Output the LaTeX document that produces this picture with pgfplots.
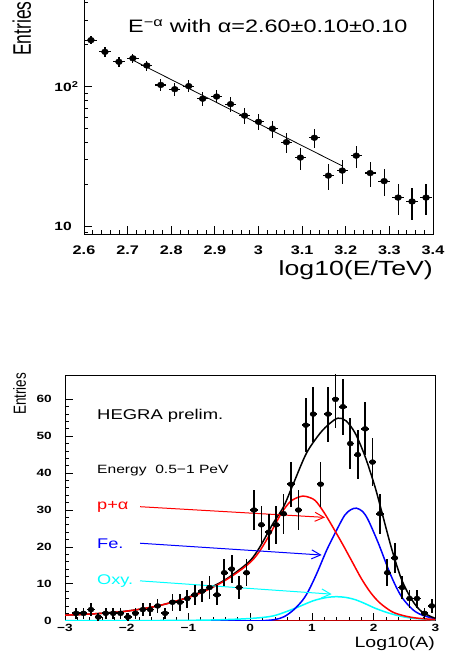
\documentclass[border=0pt]{standalone}
\usepackage{fontspec}
\setmainfont{Liberation Sans}[FakeStretch=1.3]
\newfontfamily\plainfont{Liberation Sans}
\usepackage{graphicx}
\usepackage{pgfplots}
\usepackage{pgfplotstable}
\pgfplotsset{compat=1.18}
\usetikzlibrary{arrows.meta}
\definecolor{rootcyan}{RGB}{0,255,255}
\definecolor{rootblue}{RGB}{0,0,255}
\definecolor{rootred}{RGB}{255,0,0}

\pgfplotstableread{
x y ex ey
2.616 216 0.013 14.7
2.648 178 0.013 13.3
2.680 151 0.013 12.3
2.712 160 0.013 12.6
2.744 142 0.013 11.9
2.776 103 0.013 10.1
2.808 96 0.013 9.8
2.840 101 0.013 10.0
2.872 82 0.013 9.1
2.904 85 0.013 9.2
2.936 75 0.013 8.7
2.968 62 0.013 7.9
3.000 56 0.013 7.5
3.032 50 0.013 7.1
3.064 40 0.013 6.3
3.096 31 0.013 5.6
3.128 43 0.013 6.6
3.160 23 0.013 4.8
3.192 25 0.013 5.0
3.224 32 0.013 5.7
3.256 24 0.013 4.9
3.288 21 0.013 4.6
3.320 16 0.013 4.0
3.352 15 0.013 3.9
3.384 16 0.013 4.0
}\spectrum

\pgfplotstableread{
x y ex ey
-2.82 2 0.06 1.41
-2.70 2 0.06 1.41
-2.58 3 0.06 1.73
-2.46 1 0.06 1.00
-2.34 2 0.06 1.41
-2.22 2 0.06 1.41
-2.10 2 0.06 1.41
-1.98 1 0.06 1.00
-1.86 2 0.06 1.41
-1.74 3 0.06 1.73
-1.62 3 0.06 1.73
-1.50 4 0.06 2.00
-1.38 2 0.06 1.41
-1.26 5 0.06 2.24
-1.14 5 0.06 2.24
-1.02 6 0.06 2.45
-0.90 7 0.06 2.65
-0.78 8 0.06 2.83
-0.66 9 0.06 3.00
-0.54 7 0.06 2.65
-0.42 13 0.06 3.61
-0.30 14 0.06 3.74
-0.18 9 0.06 3.00
-0.06 13 0.06 3.61
0.06 30 0.06 5.48
0.18 26 0.06 5.10
0.30 24 0.06 4.90
0.42 26 0.06 5.10
0.54 29 0.06 5.39
0.66 37 0.06 6.08
0.78 30 0.06 5.48
0.90 53 0.06 7.28
1.02 56 0.06 7.48
1.14 37 0.06 6.08
1.26 56 0.06 7.48
1.38 60 0.06 7.75
1.50 58 0.06 7.62
1.62 48 0.06 6.93
1.74 45 0.06 6.71
1.86 52 0.06 7.21
1.98 43 0.06 6.56
2.10 29 0.06 5.39
2.22 13 0.06 3.61
2.34 17 0.06 4.12
2.46 9 0.06 3.00
2.58 6 0.06 2.45
2.70 6 0.06 2.45
2.82 2 0.06 1.41
2.94 4 0.06 2.00
}\composition

\pgfplotsset{
  rootaxis/.style={
    scale only axis, anchor=south west,
    tick align=inside, tick pos=left,
    major tick length=8pt, minor tick length=4pt,
    tick style={black, line width=0.8pt},
    axis line style={black, line width=0.8pt},
    /pgf/number format/assume math mode=true,
  },
}

\begin{document}
\begin{tikzpicture}
\path[use as bounding box] (0pt,0pt) rectangle (450pt,657pt);
\clip (0pt,0pt) rectangle (450pt,657pt);

% ---------------- top panel ----------------
\begin{axis}[rootaxis,
  at={(84pt,422.7pt)}, width=349pt, height=241.2pt,
  xmin=2.6, xmax=3.4, ymode=log, ymin=8.72, ymax=470,
  xtick={2.6,2.7,2.8,2.9,3.0,3.1,3.2,3.3,3.4},
  xticklabels={2.6,2.7,2.8,2.9,3,3.1,3.2,3.3,3.4},
  minor x tick num=4,
  ytick={10,100},
  yticklabels={10,10\rlap{\raisebox{3.6pt}{\fontsize{8.5}{8.5}\selectfont\bfseries 2}}},
  minor ytick={9,20,30,40,50,60,70,80,90,200,300,400},
  xticklabel style={font=\fontsize{12.5}{12.5}\selectfont\bfseries, anchor=north, inner sep=0pt, yshift=-11pt},
  yticklabel style={font=\fontsize{12}{12}\selectfont\bfseries, anchor=east, inner sep=0pt, xshift=-12pt},
]
\addplot[only marks, mark=*, mark size=2.9pt, mark options={xscale=1.2, fill=black},
  error bars/.cd, x dir=both, x explicit, y dir=both, y explicit, error mark=none,
  error bar style={line width=1.2pt, black}]
  table[x=x, y=y, x error=ex, y error=ey] {\spectrum};
\addplot[black, line width=0.8pt] coordinates {(2.712,155) (3.192,27)};
\end{axis}

\node[anchor=base west, inner sep=0pt, font=\fontsize{18}{18}\selectfont] at (128pt,624pt)
  {E\textsuperscript{−α} with α=2.60±0.10±0.10};
\node[anchor=base east, inner sep=0pt, font=\fontsize{20.5}{20.5}\selectfont] at (433pt,381pt) {log10(E/TeV)};
\node[rotate=90, anchor=base west, inner sep=0pt] at (31pt,601pt)
  {\plainfont\fontsize{17.5}{17.5}\selectfont\scalebox{1}[1.45]{Entries}};

% ---------------- bottom panel ----------------
\begin{axis}[rootaxis,
  at={(65pt,36.3pt)}, width=370.5pt, height=245.7pt,
  xmin=-3, xmax=3, ymin=0, ymax=66.6,
  xtick={-3,-2,-1,0,1,2,3},
  xticklabels={−3,−2,−1,0,1,2,3},
  ytick={0,10,20,30,40,50,60},
  yticklabels={0,10,20,30,40,50,60},
  minor x tick num=4, minor y tick num=4,
  xticklabel style={font=\fontsize{10.5}{10.5}\selectfont\bfseries, anchor=north, inner sep=0pt, yshift=-3pt},
  yticklabel style={font=\fontsize{10.5}{10.5}\selectfont\bfseries, anchor=east, inner sep=0pt, xshift=-13pt},
]
% zero lines
\addplot[rootblue, line width=2pt] coordinates {(-3,0) (0.3,0)};
\addplot[red!75!black, line width=2pt] coordinates {(0.3,0) (3,0)};
% cyan (Oxygen)
\addplot[rootcyan, line width=1.5pt, smooth] coordinates {
 (-3,0) (-2,0.02) (-1,0.1) (-0.5,0.25) (0,0.6) (0.37,1.3) (0.7,3.2) (1.02,5.4) (1.24,6.3)
 (1.4,6.5) (1.55,6.3) (1.7,5.7) (1.85,4.7) (2.02,3.4) (2.2,2.3) (2.34,1.6) (2.5,1.0) (2.67,0.6) (3,0.25)};
% blue (Fe)
\addplot[rootblue, line width=1.5pt, smooth] coordinates {
 (0.2,0) (0.4,0.3) (0.55,1.1) (0.7,2.9) (0.85,5.6) (0.95,8.3) (1.08,12.9) (1.24,19.2) (1.4,24.6)
 (1.53,28.6) (1.63,30.1) (1.72,30.5) (1.82,29.6) (1.91,27.3) (2.07,21.2) (2.24,13.8) (2.35,9.6)
 (2.45,6.5) (2.56,4.2) (2.67,2.5) (2.8,1.4) (3,0.5)};
% black (total)
\addplot[black, line width=1.5pt, smooth] coordinates {
 (-3,1.5) (-2.5,1.9) (-2,2.6) (-1.5,4.0) (-1,6.4) (-0.5,10.2) (-0.25,12.9) (0,16.3) (0.16,20.1)
 (0.37,26.4) (0.54,30.9) (0.7,37.2) (0.91,45.4) (1.13,50.8) (1.29,53.5) (1.42,54.9) (1.55,54.2)
 (1.7,50.8) (1.86,44.5) (2.02,36.3) (2.13,29.5) (2.29,19.5) (2.45,11.2) (2.62,5.6) (2.78,2.4) (3,0.6)};
% red (p+alpha)
\addplot[rootred, line width=1.5pt, smooth] coordinates {
 (-3,1.5) (-2.5,1.9) (-2,2.6) (-1.5,4.0) (-1,6.3) (-0.75,7.9) (-0.5,10.0) (-0.25,12.6) (0,15.8)
 (0.15,18.8) (0.32,23.5) (0.5,29.0) (0.65,32.3) (0.8,33.6) (0.9,33.7) (1.05,32.6) (1.2,29.2)
 (1.35,25.0) (1.5,20.6) (1.65,16.0) (1.8,11.4) (1.95,7.6) (2.1,4.8) (2.3,2.4) (2.5,1.3) (2.7,0.7) (3,0.3)};
% arrows
\addplot[rootred, line width=1pt, -{Straight Barb[length=9pt,width=9pt,line width=1pt]}] coordinates {(-1.785,30.9) (1.211,28.0)};
\addplot[rootblue, line width=1pt, -{Straight Barb[length=9pt,width=9pt,line width=1pt]}] coordinates {(-1.785,21.0) (1.157,17.8)};
\addplot[rootcyan, line width=1pt, -{Straight Barb[length=9pt,width=9pt,line width=1pt]}] coordinates {(-1.785,10.8) (1.319,7.2)};
% data
\addplot[only marks, mark=*, mark size=2.5pt, mark options={xscale=1.25, fill=black},
  error bars/.cd, x dir=both, x explicit, y dir=both, y explicit, error mark=none,
  error bar style={line width=1.7pt, black}]
  table[x=x, y=y, x error=ex, y error=ey] {\composition};
\end{axis}

\node[anchor=base west, inner sep=0pt, font=\fontsize{14.2}{14.2}\selectfont] at (97pt,237.7pt) {HEGRA prelim.};
\node[anchor=base west, inner sep=0pt, font=\fontsize{12}{12}\selectfont] at (97pt,183pt) {Energy\ \ 0.5−1 PeV};
\node[anchor=base west, inner sep=0pt, font=\fontsize{14}{14}\selectfont, text=rootred] at (97pt,147pt) {p+α};
\node[anchor=base west, inner sep=0pt, font=\fontsize{14}{14}\selectfont, text=rootblue] at (97pt,108.7pt) {Fe.};
\node[anchor=base west, inner sep=0pt, font=\fontsize{14}{14}\selectfont, text=rootcyan] at (97pt,72.7pt) {Oxy.};
\node[anchor=base east, inner sep=0pt, font=\fontsize{15}{15}\selectfont] at (435pt,9.3pt) {Log10(A)};
\node[rotate=90, anchor=base west, inner sep=0pt] at (26pt,242pt)
  {\plainfont\fontsize{13.5}{13.5}\selectfont\scalebox{1}[1.3]{Entries}};
\end{tikzpicture}
\end{document}
